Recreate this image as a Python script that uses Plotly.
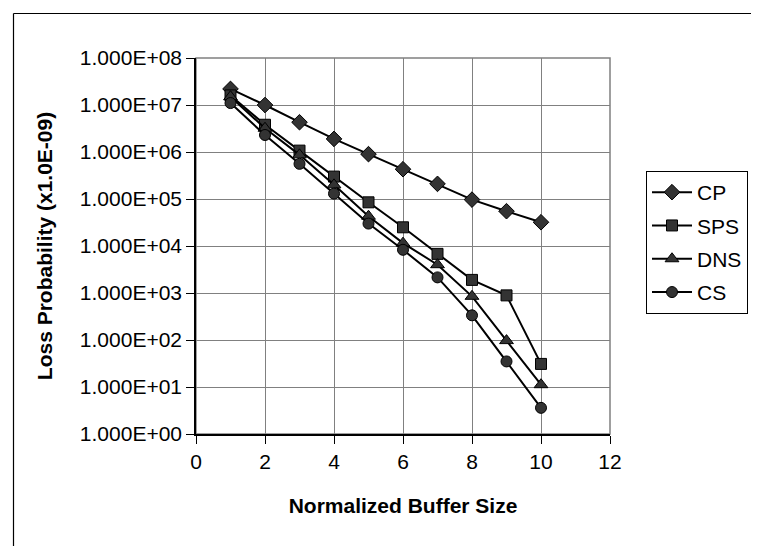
import plotly.graph_objects as go

buffer_size = [1, 2, 3, 4, 5, 6, 7, 8, 9, 10]
cp = [2.2e7, 1.0e7, 4.3e6, 1.9e6, 9.0e5, 4.3e5, 2.1e5, 9.7e4, 5.5e4, 3.2e4]
sps = [1.6e7, 3.8e6, 1.07e6, 3.0e5, 8.5e4, 2.5e4, 6.8e3, 1.9e3, 8.9e2, 31]
dns = [1.5e7, 3.2e6, 8.7e5, 2.0e5, 4.3e4, 1.15e4, 4.0e3, 8.5e2, 97, 11.2]
cs = [1.1e7, 2.3e6, 5.6e5, 1.3e5, 3.0e4, 8.3e3, 2.15e3, 3.35e2, 35, 3.6]

series_names = ["CP", "SPS", "DNS", "CS"]
series_values = [cp, sps, dns, cs]
series_symbols = ["diamond", "square", "triangle-up", "circle"]
series_sizes = [12, 11, 12, 11]

y_tick_vals = [1e0, 1e1, 1e2, 1e3, 1e4, 1e5, 1e6, 1e7, 1e8]
y_tick_text = ["1.000E+00", "1.000E+01", "1.000E+02", "1.000E+03", "1.000E+04",
               "1.000E+05", "1.000E+06", "1.000E+07", "1.000E+08"]
x_tick_vals = [0, 2, 4, 6, 8, 10, 12]

FONT = "Arial, Liberation Sans, sans-serif"
GRID = "#808080"

fig = go.Figure()
for name, vals, sym, sz in zip(series_names, series_values, series_symbols, series_sizes):
    fig.add_trace(go.Scatter(
        x=buffer_size, y=vals, name=name, mode="lines+markers",
        legendgroup=name,
        line=dict(color="black", width=2),
        marker=dict(symbol=sym, size=sz, color="#333333",
                    line=dict(color="black", width=1)),
    ))

L, R, T, B = 188, 157, 50, 120
W, H = 759, 546
pw = W - L - R
ph = H - T - B

def px_x(p):
    return (p - L) / pw

def px_y(p):
    return (H - B - p) / ph

fig.update_layout(
    width=W, height=H,
    margin=dict(l=L, r=R, t=T, b=B, pad=0),
    paper_bgcolor="white", plot_bgcolor="white",
    font=dict(family=FONT, size=21, color="black"),
    showlegend=True,
    legend=dict(
        x=px_x(638), y=px_y(163), xanchor="left", yanchor="top",
        bordercolor="black", borderwidth=1, bgcolor="white",
        font=dict(family=FONT, size=21, color="black"),
        tracegroupgap=3, traceorder="grouped", itemwidth=40,
    ),
    xaxis=dict(
        range=[0, 12], tickvals=x_tick_vals, ticks="outside", ticklen=8,
        tickcolor="black", tickwidth=1,
        showgrid=True, gridcolor=GRID, gridwidth=1,
        showline=True, linecolor="black", linewidth=1.5,
        zeroline=False,
        tickfont=dict(family=FONT, size=21, color="black"),
        title=dict(text="<b>Normalized Buffer Size</b>",
                   font=dict(family=FONT, size=21, color="black"), standoff=26),
    ),
    yaxis=dict(
        type="log", range=[0, 8], tickvals=y_tick_vals, ticktext=y_tick_text,
        ticks="outside", ticklen=8, tickcolor="black", tickwidth=1,
        showgrid=True, gridcolor=GRID, gridwidth=1,
        showline=True, linecolor="black", linewidth=1.5,
        zeroline=False,
        tickfont=dict(family=FONT, size=21, color="black"),
        title=dict(text="<b>Loss Probability (x1.0E-09)</b>",
                   font=dict(family=FONT, size=21, color="black"), standoff=22),
    ),
    shapes=[
        dict(type="rect", xref="paper", yref="paper", x0=0, x1=1, y0=0, y1=1,
             line=dict(color=GRID, width=1.5), layer="below"),
        dict(type="line", xref="paper", yref="paper",
             x0=px_x(5.5), x1=px_x(5.5), y0=px_y(5.5), y1=px_y(600),
             line=dict(color="black", width=1.2), layer="above"),
        dict(type="line", xref="paper", yref="paper",
             x0=px_x(5.5), x1=px_x(800), y0=px_y(5.5), y1=px_y(5.5),
             line=dict(color="black", width=1.2), layer="above"),
    ],
)

fig.write_html("out.html")
